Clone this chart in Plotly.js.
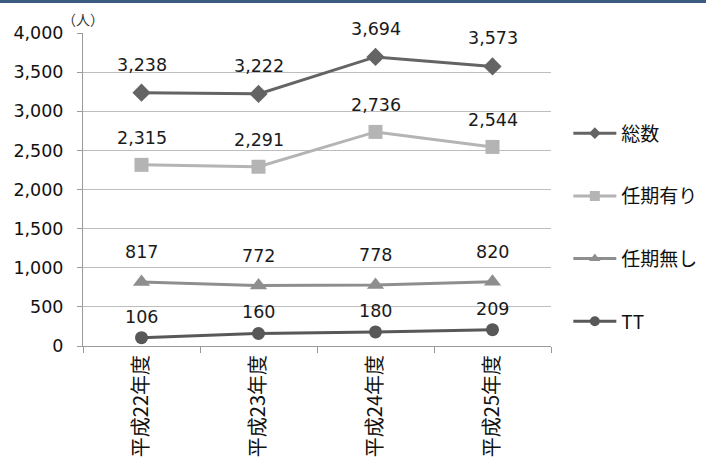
<!DOCTYPE html>
<html>
<head>
<meta charset="utf-8">
<script src="https://cdn.plot.ly/plotly-3.0.1.min.js"></script>
<style>
html,body{margin:0;padding:0;background:#fff;}
#wrap{position:relative;width:706px;height:461px;}
#chart{position:absolute;left:0;top:0;width:706px;height:461px;}
#bar{position:absolute;left:0;top:0;width:706px;height:3px;background:#3d5b80;z-index:10;}
</style>
</head>
<body>
<div id="wrap"><div id="chart"></div><div id="bar"></div></div>
<script>
const categories = ["平成22年度", "平成23年度", "平成24年度", "平成25年度"];
const seriesNames = ["総数", "任期有り", "任期無し", "TT"];
const total = [3238, 3222, 3694, 3573];
const fixedTerm = [2315, 2291, 2736, 2544];
const noFixedTerm = [817, 772, 778, 820];
const tt = [106, 160, 180, 209];
const yTicks = [0, 500, 1000, 1500, 2000, 2500, 3000, 3500, 4000];
const unitLabel = "（人）";

const seriesValues = [total, fixedTerm, noFixedTerm, tt];
const styles = [
  {color: "#646464", symbol: "diamond", size: 14, lsize: 9, shift: 28},
  {color: "#b4b4b4", symbol: "square", size: 14, lsize: 10, shift: 27},
  {color: "#8e8e8e", symbol: "triangle-up", size: 15, lsize: 10, shift: 30},
  {color: "#585858", symbol: "circle", size: 13, lsize: 10, shift: 21}
];

const fmt = v => v.toLocaleString("en-US");

const traces = seriesValues.map((vals, i) => ({
  type: "scatter",
  mode: "lines+markers",
  x: categories,
  y: vals,
  name: seriesNames[i],
  showlegend: false,
  line: {color: styles[i].color, width: 3},
  marker: {color: styles[i].color, symbol: styles[i].symbol, size: styles[i].size},
  hoverinfo: "skip"
}));
// legend entries (no data; only legend symbols with smaller markers)
seriesNames.forEach((name, i) => {
  traces.push({
    type: "scatter",
    mode: "lines+markers",
    x: [null], y: [null],
    name: name,
    legendgroup: "g" + i,
    showlegend: true,
    line: {color: styles[i].color, width: 3},
    marker: {color: styles[i].color, symbol: styles[i].symbol, size: styles[i].lsize},
    hoverinfo: "skip"
  });
});

const annotations = [];
seriesValues.forEach((vals, i) => {
  vals.forEach((v, j) => {
    annotations.push({
      x: categories[j], y: v, xref: "x", yref: "y",
      text: fmt(v), showarrow: false,
      yshift: styles[i].shift,
      font: {family: "DejaVu Sans", size: 17.5, color: "#1a1a1a"}
    });
  });
});
annotations.push({
  xref: "paper", yref: "paper", x: 0.0, y: 1.0,
  xanchor: "center", yanchor: "middle", yshift: 14,
  text: unitLabel, showarrow: false,
  font: {family: "Noto Sans CJK JP", size: 14, color: "#333"}
});

const layout = {
  width: 706, height: 461,
  margin: {l: 83, r: 155, t: 33, b: 115},
  paper_bgcolor: "#fff", plot_bgcolor: "#fff",
  showlegend: true,
  legend: {
    xref: "container", yref: "container",
    x: 0.805, y: 0.752, xanchor: "left", yanchor: "top",
    traceorder: "grouped", tracegroupgap: 35,
    itemwidth: 43,
    font: {family: "Noto Sans CJK JP", size: 19, color: "#111"},
    bgcolor: "rgba(0,0,0,0)"
  },
  xaxis: {
    type: "category",
    range: [-0.5, 3.5],
    tickangle: -90,
    showgrid: false,
    showline: true, linecolor: "#9a9a9a", linewidth: 1,
    ticks: "outside", ticklen: 6, tickcolor: "#9a9a9a",
    tickson: "boundaries",
    tickfont: {family: "Noto Sans CJK JP", size: 20, color: "#111"},
    zeroline: false, fixedrange: true
  },
  yaxis: {
    range: [0, 4000],
    tickvals: yTicks,
    ticktext: yTicks.map(fmt),
    showgrid: true, gridcolor: "#bdbdbd", gridwidth: 1,
    showline: true, linecolor: "#9a9a9a", linewidth: 1,
    ticks: "outside", ticklen: 5, tickcolor: "#9a9a9a",
    ticklabelstandoff: 10,
    tickfont: {family: "DejaVu Sans", size: 17.5, color: "#111"},
    zeroline: false, fixedrange: true
  },
  annotations: annotations
};

Plotly.newPlot("chart", traces, layout, {displayModeBar: false, staticPlot: true});
</script>
</body>
</html>
